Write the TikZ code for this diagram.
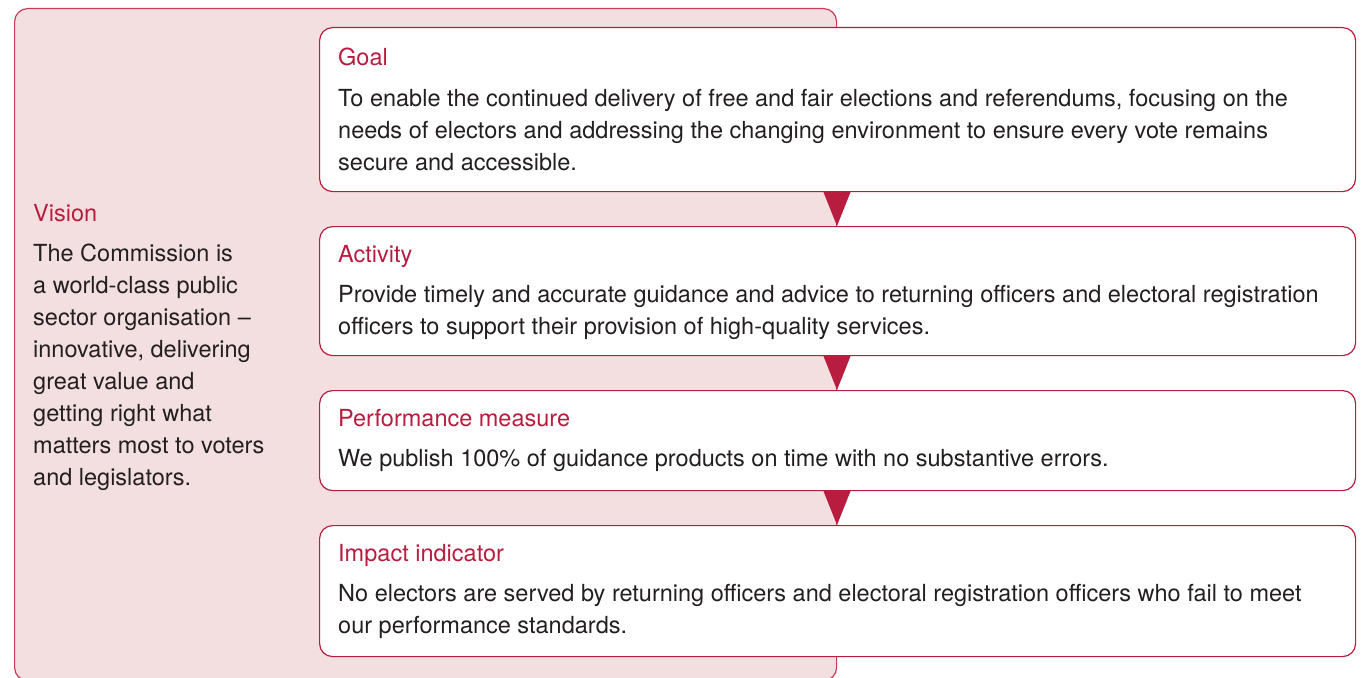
\documentclass[tikz,border=0pt]{standalone}
\usepackage{fontspec}
\setmainfont{TeX Gyre Heros}
\usetikzlibrary{calc}
\definecolor{crim}{HTML}{B81D40}
\definecolor{crimline}{HTML}{C8395A}
\definecolor{pinkfill}{HTML}{F3DFDF}
\definecolor{txt}{HTML}{231F20}
\tikzset{
  outerbox/.style={draw=crimline, line width=1.2pt, fill=pinkfill, rounded corners=13pt},
  innerbox/.style={draw=crim, line width=1.2pt, fill=white, rounded corners=13pt, inner sep=0pt},
  ttl/.style={anchor=base west, inner sep=0pt, text=crim, font=\fontsize{23.5}{32}\selectfont},
  body/.style={anchor=base west, inner sep=0pt, text=txt, align=left, font=\fontsize{23.5}{32}\selectfont},
  arrowtri/.style={fill=crim}
}
\begin{document}
\begin{tikzpicture}[x=1pt,y=-1pt]
\clip (0,0) rectangle (1362,677);
\fill[white] (0,0) rectangle (1362,677);
% outer vision box
\node[outerbox, anchor=north west, minimum width=822pt, minimum height=672pt, inner sep=0pt] (vision) at (14,8) {};
% inner boxes
\node[innerbox, anchor=north west, minimum width=1036pt, minimum height=164pt] (goal) at (319,27) {};
\node[innerbox, anchor=north west, minimum width=1036pt, minimum height=129pt] (activity) at (319,226) {};
\node[innerbox, anchor=north west, minimum width=1036pt, minimum height=100pt] (perf) at (319,390) {};
\node[innerbox, anchor=north west, minimum width=1036pt, minimum height=131pt] (impact) at (319,525) {};
% triangles
\coordinate (ax) at (837,0);
\fill[arrowtri] ($(goal.south -| ax)+(-13.5,0)$) -- ($(goal.south -| ax)+(13.5,0)$) -- (activity.north -| ax) -- cycle;
\fill[arrowtri] ($(activity.south -| ax)+(-13.5,0)$) -- ($(activity.south -| ax)+(13.5,0)$) -- (perf.north -| ax) -- cycle;
\fill[arrowtri] ($(perf.south -| ax)+(-13.5,0)$) -- ($(perf.south -| ax)+(13.5,0)$) -- (impact.north -| ax) -- cycle;
% texts (multi-line nodes: base = last line's baseline)
\node[ttl] (visiont) at (33,221) {Vision};
\node[body] (visionb) at (33,485) {The Commission is\\a world-class public\\sector organisation –\\innovative, delivering\\great value and\\getting right what\\matters most to voters\\and legislators.};
\node[ttl] (goalt) at (338,66) {Goal};
\node[body] (goalb) at (338,170) {To enable the continued delivery of free and fair elections and referendums, focusing on the\\needs of electors and addressing the changing environment to ensure every vote remains\\secure and accessible.};
\node[ttl] (actt) at (338,262) {Activity};
\node[body] (actb) at (338,334) {Provide timely and accurate guidance and advice to returning officers and electoral registration\\officers to support their provision of high-quality services.};
\node[ttl] (perft) at (338,426) {Performance measure};
\node[body] (perfb) at (338,466) {We publish 100\% of guidance products on time with no substantive errors.};
\node[ttl] (impt) at (338,561) {Impact indicator};
\node[body] (impb) at (338,633) {No electors are served by returning officers and electoral registration officers who fail to meet\\our performance standards.};
\end{tikzpicture}
\end{document}
